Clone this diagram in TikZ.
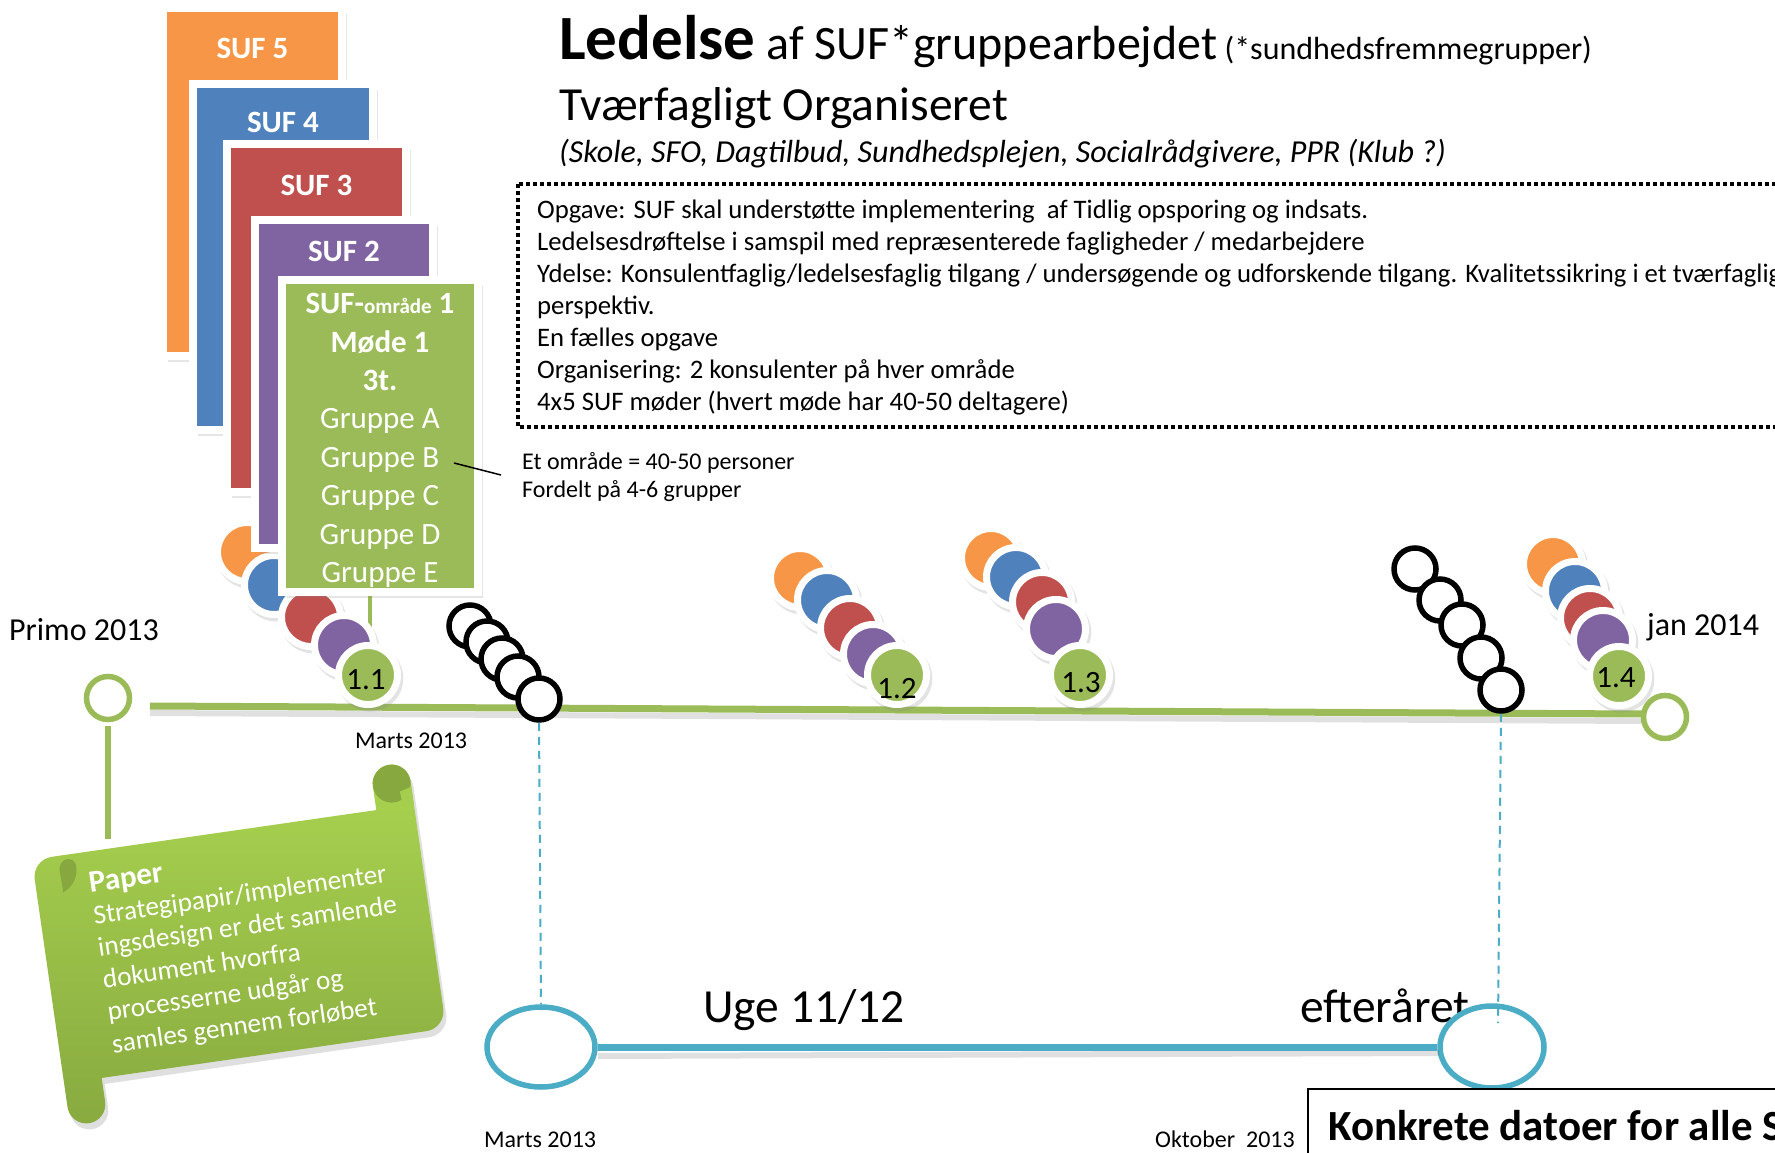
\documentclass[tikz,border=0pt]{standalone}
\usepackage{fontspec}
\setmainfont{Carlito}
\usetikzlibrary{shapes.geometric,shadows}
\definecolor{sufo}{HTML}{F79646}
\definecolor{sufb}{HTML}{4F81BD}
\definecolor{sufr}{HTML}{C0504D}
\definecolor{sufp}{HTML}{8064A2}
\definecolor{sufg}{HTML}{9BBB59}
\definecolor{sufc}{HTML}{4BACC6}
\definecolor{scrtop}{HTML}{AAD450}
\definecolor{scrbot}{HTML}{88AA40}
\definecolor{scrdark}{HTML}{86A83E}
\newcommand{\pxf}[1]{\fontsize{#1}{#1}\selectfont}
\begin{document}
\begin{tikzpicture}[x=1pt,y=-1pt,
  card/.style={rectangle, draw=white, line width=8pt, inner sep=0pt,
     drop shadow={shadow xshift=5pt, shadow yshift=-6pt, opacity=0.2}},
  cardtitle/.style={anchor=base, text=white, font=\pxf{31}\bfseries, inner sep=0pt},
  cardline/.style={anchor=base, text=white, font=\pxf{31}, inner sep=0pt},
  bead/.style={circle, draw=white, line width=7pt, minimum size=59pt, inner sep=0pt,
     drop shadow={shadow xshift=2pt, shadow yshift=-3pt, opacity=0.22, shadow scale=1.12}},
  beadtxt/.style={anchor=base, font=\pxf{31}, inner sep=0pt},
  bring/.style={circle, draw=black, fill=white, line width=5.5pt, minimum size=42pt, inner sep=0pt},
  tring/.style={circle, draw=sufg, fill=white, line width=5.5pt, minimum size=43pt, inner sep=0pt},
  bell/.style={ellipse, draw=sufc, fill=white, line width=5.5pt, inner sep=0pt},
  lbl/.style={anchor=base west, inner sep=0pt, text=black},
  boxtxt/.style={lbl, font=\pxf{26.7}},
  small/.style={lbl, font=\pxf{24}},
  big/.style={lbl, font=\pxf{47.5}},
  scrtxt/.style={anchor=base west, inner sep=0pt, text=white, transform shape, font=\pxf{27.2}},
  dashblue/.style={draw=sufc, line width=2pt, dash pattern=on 8pt off 6pt},
  shadowline/.style={draw=black, opacity=0.12}
]
\useasboundingbox (0,0) rectangle (1775,1153);
\clip (0,0) rectangle (1775,1153);
\fill[white] (0,0) rectangle (1775,1153);

% ---------- title ----------
\node[lbl] (title) at (559,60) {{\pxf{63}\bfseries Ledelse}{\pxf{48}\ af SUF*gruppearbejdet}{\pxf{32}\ (*sundhedsfremmegrupper)}};
\node[big] (sub) at (559,121) {Tværfagligt Organiseret};
\node[lbl, font=\pxf{32}\itshape] (subsub) at (559,162) {(Skole, SFO, Dagtilbud, Sundhedsplejen, Socialrådgivere, PPR (Klub ?)};

% ---------- dotted box ----------
\draw[line width=4.5pt, dash pattern=on 4pt off 3pt] (518,184) rectangle (1800,427);
\node[boxtxt] (bx1) at (537,218) {Opgave: SUF skal understøtte implementering\ \ af Tidlig opsporing og indsats.};
\node[boxtxt] (bx2) at (537,250) {Ledelsesdrøftelse i samspil med repræsenterede fagligheder / medarbejdere};
\node[boxtxt] (bx3) at (537,282) {Ydelse: Konsulentfaglig/ledelsesfaglig tilgang / undersøgende og udforskende tilgang. Kvalitetssikring i et tværfaglig};
\node[boxtxt] (bx4) at (537,314) {perspektiv.};
\node[boxtxt] (bx5) at (537,346) {En fælles opgave};
\node[boxtxt] (bx6) at (537,378) {Organisering: 2 konsulenter på hver område};
\node[boxtxt] (bx7) at (537,410) {4x5 SUF møder (hvert møde har 40-50 deltagere)};

% ---------- main green timeline ----------
\coordinate (mlstart) at (150,706);
\coordinate (mlend) at (1643,714);
\coordinate (mlsh1) at (150,713);
\coordinate (mlsh2) at (1643,721);
\draw[shadowline, line width=6pt] (mlsh1) -- (mlsh2);
\draw[sufg, line width=7pt] (mlstart) -- (mlend);
\node[tring] (primo) at (108,698) {};
\node[tring] (endring) at (1665,717) {};
\coordinate (vlend) at (108,839);
\draw[sufg, line width=6pt] (primo.south) ++(0,4) -- (vlend);
\node[lbl, font=\pxf{32}] (primolbl) at (9,640) {Primo 2013};
\node[lbl, font=\pxf{32}] (janlbl) at (1647,635) {jan 2014};
\node[small] (marts1) at (355,748) {Marts 2013};

% connector card -> 1.1
\coordinate (cc1) at (370,596);
\coordinate (cc2) at (370,648);
\draw[sufg, line width=4pt] (cc1) -- (cc2);

% ---------- bead groups ----------
\node[bead, fill=sufo] (b1o) at (247,552) {};
\node[bead, fill=sufb] (b1b) at (274,585) {};
\node[bead, fill=sufr] (b1r) at (311,617) {};
\node[bead, fill=sufp] (b1p) at (344,645) {};
\node[bead, fill=sufg] (b1g) at (368,675) {};
\node[beadtxt] (t11) at (366,689) {1.1};

\node[bead, fill=sufo] (b2o) at (800,578) {};
\node[bead, fill=sufb] (b2b) at (827,600) {};
\node[bead, fill=sufr] (b2r) at (850,628) {};
\node[bead, fill=sufp] (b2p) at (873,654) {};
\node[bead, fill=sufg] (b2g) at (897,675) {};
\node[beadtxt] (t12) at (897,698) {1.2};

\node[bead, fill=sufo] (b3o) at (991,558) {};
\node[bead, fill=sufb] (b3b) at (1016,577) {};
\node[bead, fill=sufr] (b3r) at (1042,602) {};
\node[bead, fill=sufp] (b3p) at (1056,629) {};
\node[bead, fill=sufg] (b3g) at (1080,675) {};
\node[beadtxt] (t13) at (1081,692) {1.3};

\node[bead, fill=sufo] (b4o) at (1553,564) {};
\node[bead, fill=sufb] (b4b) at (1575,591) {};
\node[bead, fill=sufr] (b4r) at (1590,618) {};
\node[bead, fill=sufp] (b4p) at (1603,640) {};
\node[bead, fill=sufg] (b4g) at (1619,676) {};
\node[beadtxt] (t14) at (1616,687) {1.4};

% ---------- black ring stacks ----------
\node[bring] (s1a) at (470,626) {};
\node[bring] (s1b) at (487,642) {};
\node[bring] (s1c) at (502,659) {};
\node[bring] (s1d) at (518,677) {};
\node[bring] (s1e) at (539,699) {};

\node[bring] (s2a) at (1415,569) {};
\node[bring] (s2b) at (1440,600) {};
\node[bring] (s2c) at (1462,625) {};
\node[bring] (s2d) at (1481,658) {};
\node[bring] (s2e) at (1501,690) {};

% ---------- lower blue timeline ----------
\node[big] (uge) at (703,1022) {Uge 11/12};
\node[big] (efter) at (1300,1022) {efteråret};
\node[bell, minimum width=108pt, minimum height=80pt] (el1) at (541,1047) {};
\node[bell, minimum width=104pt, minimum height=82pt] (el2) at (1492,1047) {};
\coordinate (bsh1) at (598,1056);
\coordinate (bsh2) at (1439,1053);
\draw[shadowline, line width=6pt] (bsh1) -- (bsh2);
\draw[sufc, line width=7pt] (el1.east) -- (el2.west);
\draw[dashblue] (s1e.south) -- (el1.north);
\coordinate (d2end) at (1498,1023);
\draw[dashblue] (s2e.south) -- (d2end);
\node[small] (marts2) at (484,1147) {Marts 2013};
\node[small] (okt) at (1155,1147) {Oktober\ \ 2013};

% Konkrete box
\draw[line width=2pt, fill=white] (1308,1089) rectangle (1800,1200);
\node[lbl, font=\pxf{43}\bfseries] (konk) at (1328,1140) {Konkrete datoer for alle SUF};

% ---------- cards ----------
\node[card, fill=sufo, minimum width=179pt, minimum height=347pt] (c5) at (252.5,182) {};
\node[cardtitle] (c5t) at (252.5,59) {SUF 5};
\node[card, fill=sufb, minimum width=180pt, minimum height=346.5pt] (c4) at (283,257) {};
\node[cardtitle] (c4t) at (283,133) {SUF 4};
\node[card, fill=sufr, minimum width=179pt, minimum height=347.5pt] (c3) at (316.5,318) {};
\node[cardtitle] (c3t) at (316.5,195) {SUF 3};
\node[card, fill=sufp, minimum width=178.5pt, minimum height=328pt] (c2) at (344,384) {};
\node[cardtitle] (c2t) at (344,261) {SUF 2};
\node[card, fill=sufg, minimum width=196pt, minimum height=311.5pt] (c1) at (380,436) {};
\node[cardtitle] (c1t) at (380,313) {SUF-{\pxf{21}område} 1};
\node[cardtitle] (c1m) at (380,352) {Møde 1};
\node[cardtitle] (c1h) at (380,390) {3t.};
\node[cardline] (gA) at (380,428) {Gruppe A};
\node[cardline] (gB) at (380,467) {Gruppe B};
\node[cardline] (gC) at (380,505) {Gruppe C};
\node[cardline] (gD) at (380,544) {Gruppe D};
\node[cardline] (gE) at (380,582) {Gruppe E};

% pointer
\coordinate (p1) at (454,463);
\coordinate (p2) at (501,475);
\draw[line width=1.5pt] (p1) -- (p2);
\node[small] (omr1) at (522,469) {Et område = 40-50 personer};
\node[small] (omr2) at (522,497) {Fordelt på 4-6 grupper};

% ---------- paper scroll ----------
\begin{scope}[shift={(239,944)}, rotate=8.2]
  \path[top color=scrtop, bottom color=scrbot,
        drop shadow={shadow xshift=3pt, shadow yshift=-6pt, opacity=0.25}]
    (-193,-93) arc[start angle=180, end angle=90, radius=20pt]
    -- (155,-113) -- (155,-137) arc[start angle=180, end angle=0, radius=19pt]
    -- (193,93) arc[start angle=0, end angle=-90, radius=20pt]
    -- (-155,113) -- (-155,137) arc[start angle=0, end angle=-180, radius=19pt]
    -- cycle;
  \fill[scrdark] (174,-137) circle[radius=19pt];
  \fill[scrtop!85!scrbot] (181,-128) -- (193,-131) -- (193,-113) -- (182,-113) -- cycle;
  \fill[scrdark] (-150,-100) .. controls (-150,-112) and (-168,-112) .. (-167,-96)
     .. controls (-167,-86) and (-166,-80) .. (-167,-76)
     .. controls (-156,-80) and (-150,-90) .. cycle;
  \node[scrtxt, font=\pxf{31}\bfseries] (pap) at (-140,-72) {Paper};
  \node[scrtxt] (pl1) at (-140,-40) {Strategipapir/implementer};
  \node[scrtxt] (pl2) at (-140,-8) {ingsdesign er det samlende};
  \node[scrtxt] (pl3) at (-140,25) {dokument hvorfra};
  \node[scrtxt] (pl4) at (-140,57) {processerne udgår og};
  \node[scrtxt] (pl5) at (-140,90) {samles gennem forløbet};
\end{scope}
\end{tikzpicture}
\end{document}
